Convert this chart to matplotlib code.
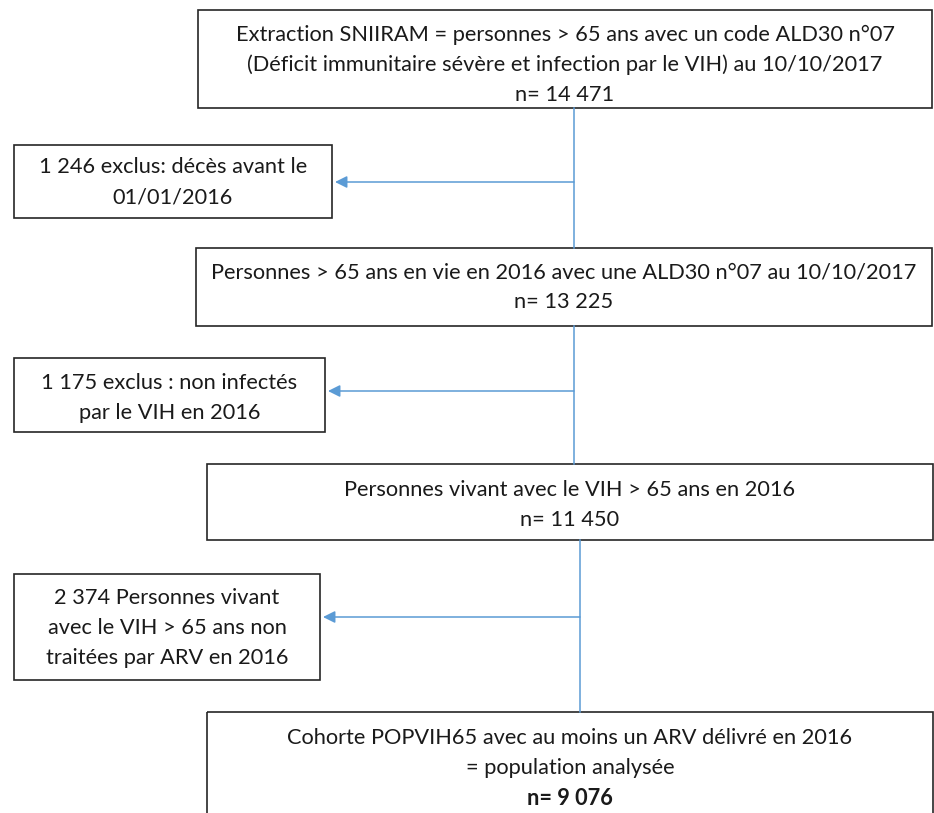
import matplotlib.pyplot as plt
from matplotlib.patches import Rectangle

# main flow boxes (text lines)
main_lines = [
    ["Extraction SNIIRAM = personnes > 65 ans avec un code ALD30 n°07",
     "(Déficit immunitaire sévère et infection par le VIH) au 10/10/2017",
     "n= 14 471"],
    ["Personnes > 65 ans en vie en 2016 avec une ALD30 n°07 au 10/10/2017",
     "n= 13 225"],
    ["Personnes vivant avec le VIH > 65 ans en 2016",
     "n= 11 450"],
    ["Cohorte POPVIH65 avec au moins un ARV délivré en 2016",
     "= population analysée",
     "n= 9 076"],
]
# exclusion boxes
excl_lines = [
    ["1 246 exclus: décès avant le", "01/01/2016"],
    ["1 175 exclus : non infectés", "par le VIH en 2016"],
    ["2 374 Personnes vivant", "avec le VIH > 65 ans non", "traitées par ARV en 2016"],
]

# layout (pixels)
main_box = [(198, 10, 734, 98), (196, 248, 736, 78), (207, 464, 726, 76), (207, 712, 726, 110)]
excl_box = [(14, 145, 318, 73), (14, 358, 311, 74), (14, 574, 306, 106)]
text_top = [35, 272, 490, 738]
excl_top = [167, 383, 598]
spine_x = [574, 574, 580]
arrow_y = [182, 391, 617]

W, H = 934, 813
fig = plt.figure(figsize=(W / 100, H / 100), dpi=100)
ax = fig.add_axes([0, 0, 1, 1])
ax.set_xlim(0, W)
ax.set_ylim(H, 0)
ax.axis('off')

font = 'Lato'
fs = 15.7
step = 30
blue = '#5B9BD5'


def draw_box(box, lines, top, bold_last=False):
    x, y, w, h = box
    ax.add_patch(Rectangle((x, y), w, h, fill=False, ec='#262626', lw=1.2))
    n = len(lines)
    for i, t in enumerate(lines):
        ax.text(x + w / 2, top + i * step, t, ha='center', va='center', fontsize=fs,
                family=font, color='#1a1a1a',
                weight='bold' if (bold_last and i == n - 1) else 'normal')


for i, (b, l, t) in enumerate(zip(main_box, main_lines, text_top)):
    draw_box(b, l, t, bold_last=(i == len(main_box) - 1))
for b, l, t in zip(excl_box, excl_lines, excl_top):
    draw_box(b, l, t)

# connectors
for i in range(3):
    y0 = main_box[i][1] + main_box[i][3]
    y1 = main_box[i + 1][1]
    ax.plot([spine_x[i], spine_x[i]], [y0, y1], color=blue, lw=1.1)
    xb = excl_box[i][0] + excl_box[i][2]
    ax.annotate('', xy=(xb + 3, arrow_y[i]), xytext=(spine_x[i], arrow_y[i]),
                arrowprops=dict(arrowstyle='-|>', color=blue, lw=1.1,
                                mutation_scale=18, shrinkA=0, shrinkB=0))

fig.savefig('out.png', dpi=100, facecolor='white')
